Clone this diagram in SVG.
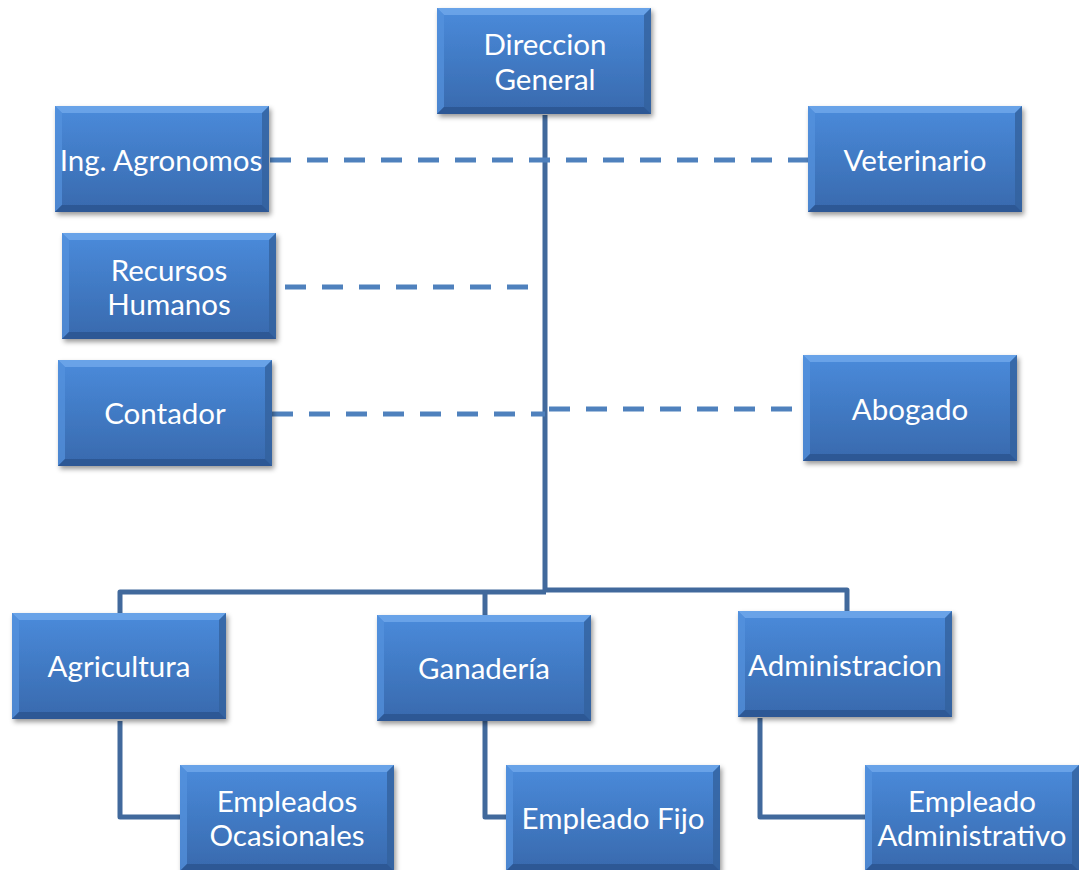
<svg xmlns="http://www.w3.org/2000/svg" xmlns:xlink="http://www.w3.org/1999/xlink" width="1079" height="870" viewBox="0 0 1079 870">
<style>
.t{font-family:Lato,"Open Sans",sans-serif;font-size:29.5px;fill:#ffffff;text-anchor:middle;dominant-baseline:central}
.solid{fill:none;stroke:#41699c;stroke-width:5;stroke-linejoin:round;stroke-linecap:butt}
.dash{fill:none;stroke:#4f81bd;stroke-width:5;stroke-dasharray:21 16}
</style>
<defs>
<linearGradient id="g" x1="0" y1="0" x2="0" y2="1">
<stop offset="0" stop-color="#4a8bdb"/>
<stop offset="1" stop-color="#3869ad"/>
</linearGradient>
<filter id="sh" x="-10%" y="-10%" width="125%" height="130%">
<feDropShadow dx="2" dy="3" stdDeviation="2.5" flood-color="#000" flood-opacity="0.4"/>
</filter>
<g id="box">
<rect x="0" y="0" width="214" height="106" fill="url(#g)" filter="url(#sh)"/>
<polygon points="0,0 214,0 207,7 7,7" fill="#6ea7ea" opacity="0.85"/>
<polygon points="0,0 7,7 7,99 0,106" fill="#5593de" opacity="0.7"/>
<polygon points="214,0 214,106 207,99 207,7" fill="#33619e" opacity="0.8"/>
<polygon points="0,106 7,99 207,99 214,106" fill="#2b5590" opacity="0.85"/>
</g>
</defs>
<rect width="1079" height="870" fill="#ffffff"/>
<g id="connectors">
<path class="solid" d="M545 115 V591"/>
<path class="solid" d="M120 613 V592 H546 M546 590 H847 V611"/>
<path class="solid" d="M485 591 V615"/>
<path class="solid" d="M120 721 V817 H180"/>
<path class="solid" d="M485 721 V817 H506"/>
<path class="solid" d="M760 718 V817 H865"/>
<path class="dash" d="M270 160 H808"/>
<path class="dash" d="M285 287 H530"/>
<path class="dash" d="M272 414 H545"/>
<path class="dash" d="M549 409 H803"/>
</g>
<g id="direccion"><use xlink:href="#box" x="437" y="8"/><text class="t" x="545" y="43">Direccion</text><text class="t" x="545" y="78">General</text></g>
<g id="agronomos"><use xlink:href="#box" x="55" y="106"/><text class="t" x="161" y="159">Ing. Agronomos</text></g>
<g id="veterinario"><use xlink:href="#box" x="808" y="106"/><text class="t" x="915" y="159">Veterinario</text></g>
<g id="rrhh"><use xlink:href="#box" x="62" y="233"/><text class="t" x="169" y="269">Recursos</text><text class="t" x="169" y="303">Humanos</text></g>
<g id="contador"><use xlink:href="#box" x="58" y="360"/><text class="t" x="165" y="412">Contador</text></g>
<g id="abogado"><use xlink:href="#box" x="803" y="355"/><text class="t" x="910" y="408">Abogado</text></g>
<g id="agricultura"><use xlink:href="#box" x="12" y="613"/><text class="t" x="119" y="665">Agricultura</text></g>
<g id="ganaderia"><use xlink:href="#box" x="377" y="615"/><text class="t" x="484" y="667">Ganadería</text></g>
<g id="administracion"><use xlink:href="#box" x="738" y="611"/><text class="t" x="845" y="664">Administracion</text></g>
<g id="ocasionales"><use xlink:href="#box" x="180" y="765"/><text class="t" x="287" y="800">Empleados</text><text class="t" x="287" y="834">Ocasionales</text></g>
<g id="fijo"><use xlink:href="#box" x="506" y="765"/><text class="t" x="613" y="817">Empleado Fijo</text></g>
<g id="administrativo"><use xlink:href="#box" x="865" y="765"/><text class="t" x="972" y="800">Empleado</text><text class="t" x="972" y="834">Administrativo</text></g>
</svg>
